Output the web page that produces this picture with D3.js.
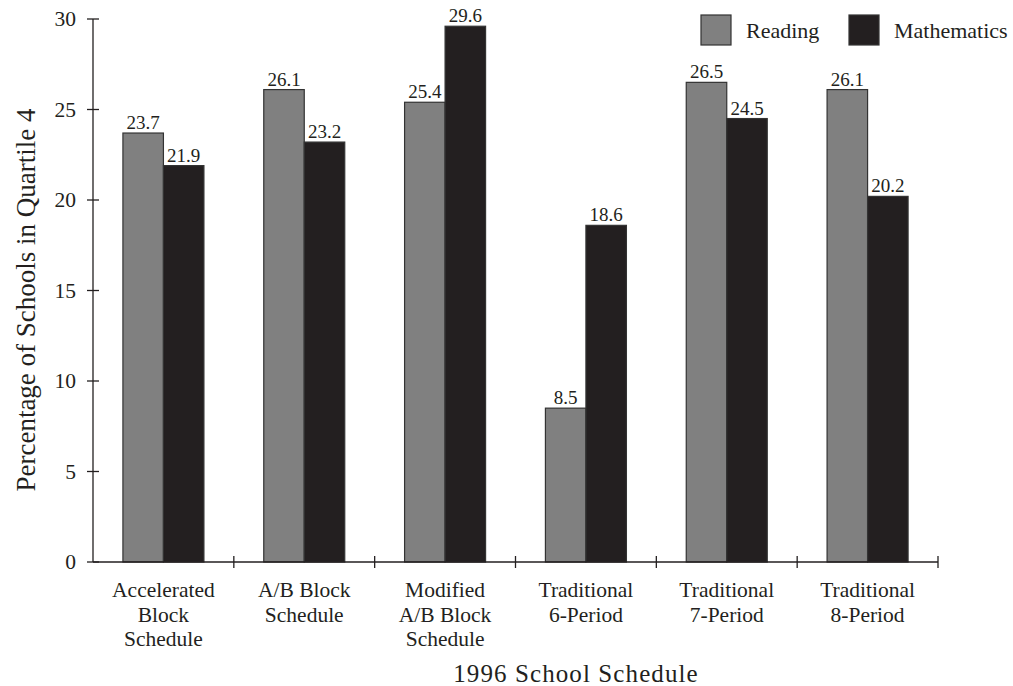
<!DOCTYPE html>
<html>
<head>
<meta charset="utf-8">
<script src="https://cdn.jsdelivr.net/npm/d3@7"></script>
<style>
  body { margin: 0; background: #fff; }
  text { font-family: "Liberation Serif", "Times New Roman", serif; fill: #231f20; }
</style>
</head>
<body>
<svg id="chart" width="1013" height="686"></svg>
<script>
const categories = [
  ["Accelerated", "Block", "Schedule"],
  ["A/B Block", "Schedule"],
  ["Modified", "A/B Block", "Schedule"],
  ["Traditional", "6-Period"],
  ["Traditional", "7-Period"],
  ["Traditional", "8-Period"]
];
const reading = [23.7, 26.1, 25.4, 8.5, 26.5, 26.1];
const mathematics = [21.9, 23.2, 29.6, 18.6, 24.5, 20.2];
const seriesNames = ["Reading", "Mathematics"];
const seriesColors = ["#808080", "#231f20"];
const yTicks = [0, 5, 10, 15, 20, 25, 30];

(function () {
const svg = d3.select("#chart");
const mLeft = 93, mRight = 938, mTop = 19, mBottom = 562;

const x = d3.scaleBand().domain(d3.range(categories.length)).range([mLeft, mRight]).paddingInner(0).paddingOuter(0);
const y = d3.scaleLinear().domain([0, 30]).range([mBottom, mTop]);
const groupW = 81;
const xs = d3.scaleBand().domain([0, 1]).range([0, groupW]);

const data = [reading, mathematics];

categories.forEach((c, i) => {
  const gx = x(i) + (x.bandwidth() - groupW) / 2;
  data.forEach((arr, s) => {
    const v = arr[i];
    svg.append("rect")
      .attr("x", gx + xs(s))
      .attr("y", y(v))
      .attr("width", xs.bandwidth())
      .attr("height", y(0) - y(v))
      .attr("fill", seriesColors[s])
      .attr("stroke", "#333")
      .attr("stroke-width", 1.2);
    svg.append("text")
      .attr("x", gx + xs(s) + xs.bandwidth() / 2)
      .attr("y", y(v) - 4)
      .attr("text-anchor", "middle")
      .attr("font-size", 19)
      .text(v.toFixed(1));
  });
});

svg.append("line").attr("x1", mLeft).attr("x2", mLeft).attr("y1", mTop).attr("y2", mBottom)
  .attr("stroke", "#231f20").attr("stroke-width", 1.3);
yTicks.forEach(t => {
  svg.append("line").attr("x1", mLeft - 6).attr("x2", mLeft + 6).attr("y1", y(t)).attr("y2", y(t))
    .attr("stroke", "#231f20").attr("stroke-width", 1.3);
  svg.append("text").attr("x", 76).attr("y", y(t) + 7).attr("text-anchor", "end")
    .attr("font-size", 21.5).text(t);
});

svg.append("line").attr("x1", mLeft).attr("x2", mRight).attr("y1", mBottom).attr("y2", mBottom)
  .attr("stroke", "#231f20").attr("stroke-width", 1.3);
d3.range(1, categories.length + 1).forEach(i => {
  const tx = i < categories.length ? x(i) : mRight;
  svg.append("line").attr("x1", tx).attr("x2", tx).attr("y1", mBottom - 6).attr("y2", mBottom + 6)
    .attr("stroke", "#231f20").attr("stroke-width", 1.3);
});
categories.forEach((c, i) => {
  const t = svg.append("text").attr("text-anchor", "middle").attr("font-size", 21.5);
  c.forEach((line, k) => {
    t.append("tspan").attr("x", x(i) + x.bandwidth() / 2).attr("y", 597 + k * 24.5).text(line);
  });
});

svg.append("text").attr("x", 576).attr("y", 682).attr("text-anchor", "middle")
  .attr("font-size", 25).attr("letter-spacing", 1.1).text("1996 School Schedule");
svg.append("text").attr("transform", `translate(35,300) rotate(-90)`)
  .attr("text-anchor", "middle").attr("font-size", 27).text("Percentage of Schools in Quartile 4");

const legX = [701, 849];
seriesNames.forEach((n, s) => {
  svg.append("rect").attr("x", legX[s]).attr("y", 15).attr("width", 30).attr("height", 30)
    .attr("fill", seriesColors[s]).attr("stroke", "#333").attr("stroke-width", 1.2);
  svg.append("text").attr("x", legX[s] + 45).attr("y", 38).attr("font-size", 22).text(n);
});
})();
</script>
</body>
</html>
